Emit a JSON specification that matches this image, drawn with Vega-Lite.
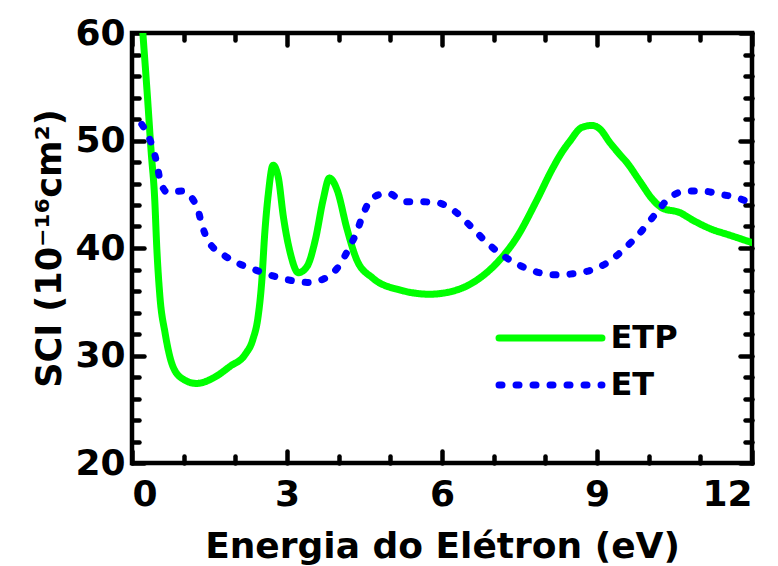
{
  "$schema": "https://vega.github.io/schema/vega-lite/v6.json",
  "width": 620,
  "height": 430,
  "autosize": "none",
  "padding": {"left": 132, "top": 33, "right": 26, "bottom": 103},
  "config": {
    "view": {"stroke": "black", "strokeWidth": 4.5},
    "font": "DejaVu Sans",
    "axis": {
      "domain": false, "grid": false,
      "labelFont": "DejaVu Sans", "labelFontWeight": "bold", "labelFontSize": 36, "labelColor": "black",
      "titleFont": "DejaVu Sans", "titleFontWeight": "bold", "titleFontSize": 36, "titleColor": "black",
      "tickColor": "black", "tickWidth": 4.5, "tickCap": "round"
    }
  },
  "data": {"values": [
    {"series": "ETP", "E": 0.21, "SCI": 60},
    {"series": "ETP", "E": 0.30, "SCI": 54},
    {"series": "ETP", "E": 0.37, "SCI": 49},
    {"series": "ETP", "E": 0.44, "SCI": 44.5},
    {"series": "ETP", "E": 0.48, "SCI": 40},
    {"series": "ETP", "E": 0.54, "SCI": 35.5},
    {"series": "ETP", "E": 0.64, "SCI": 32.1},
    {"series": "ETP", "E": 0.79, "SCI": 29.0},
    {"series": "ETP", "E": 0.99, "SCI": 27.8},
    {"series": "ETP", "E": 1.25, "SCI": 27.4},
    {"series": "ETP", "E": 1.57, "SCI": 27.9},
    {"series": "ETP", "E": 1.9, "SCI": 29.0},
    {"series": "ETP", "E": 2.19, "SCI": 30.1},
    {"series": "ETP", "E": 2.34, "SCI": 31.5},
    {"series": "ETP", "E": 2.44, "SCI": 33.6},
    {"series": "ETP", "E": 2.51, "SCI": 36.8},
    {"series": "ETP", "E": 2.57, "SCI": 41.4},
    {"series": "ETP", "E": 2.64, "SCI": 45.1},
    {"series": "ETP", "E": 2.73, "SCI": 47.7},
    {"series": "ETP", "E": 2.83, "SCI": 46.6},
    {"series": "ETP", "E": 2.93, "SCI": 42.9},
    {"series": "ETP", "E": 3.06, "SCI": 39.6},
    {"series": "ETP", "E": 3.22, "SCI": 37.7},
    {"series": "ETP", "E": 3.39, "SCI": 38.3},
    {"series": "ETP", "E": 3.55, "SCI": 40.8},
    {"series": "ETP", "E": 3.70, "SCI": 44.5},
    {"series": "ETP", "E": 3.82, "SCI": 46.5},
    {"series": "ETP", "E": 3.97, "SCI": 45.4},
    {"series": "ETP", "E": 4.16, "SCI": 41.8},
    {"series": "ETP", "E": 4.35, "SCI": 38.9},
    {"series": "ETP", "E": 4.66, "SCI": 37.2},
    {"series": "ETP", "E": 5.18, "SCI": 36.1},
    {"series": "ETP", "E": 5.76, "SCI": 35.7},
    {"series": "ETP", "E": 6.29, "SCI": 36.1},
    {"series": "ETP", "E": 6.73, "SCI": 37.2},
    {"series": "ETP", "E": 7.06, "SCI": 38.6},
    {"series": "ETP", "E": 7.45, "SCI": 41.0},
    {"series": "ETP", "E": 7.83, "SCI": 44.4},
    {"series": "ETP", "E": 8.14, "SCI": 47.4},
    {"series": "ETP", "E": 8.32, "SCI": 48.9},
    {"series": "ETP", "E": 8.47, "SCI": 49.9},
    {"series": "ETP", "E": 8.70, "SCI": 51.2},
    {"series": "ETP", "E": 8.9, "SCI": 51.4},
    {"series": "ETP", "E": 9.05, "SCI": 51.1},
    {"series": "ETP", "E": 9.25, "SCI": 49.8},
    {"series": "ETP", "E": 9.44, "SCI": 48.7},
    {"series": "ETP", "E": 9.57, "SCI": 48.0},
    {"series": "ETP", "E": 9.83, "SCI": 46.2},
    {"series": "ETP", "E": 10.08, "SCI": 44.5},
    {"series": "ETP", "E": 10.27, "SCI": 43.7},
    {"series": "ETP", "E": 10.6, "SCI": 43.3},
    {"series": "ETP", "E": 10.85, "SCI": 42.6},
    {"series": "ETP", "E": 11.24, "SCI": 41.7},
    {"series": "ETP", "E": 11.5, "SCI": 41.3},
    {"series": "ETP", "E": 12.0, "SCI": 40.5},
    {"series": "ET", "E": 0.19, "SCI": 51.5},
    {"series": "ET", "E": 0.3, "SCI": 50.6},
    {"series": "ET", "E": 0.41, "SCI": 49.2},
    {"series": "ET", "E": 0.48, "SCI": 47.9},
    {"series": "ET", "E": 0.54, "SCI": 46.4},
    {"series": "ET", "E": 0.68, "SCI": 45.2},
    {"series": "ET", "E": 0.97, "SCI": 45.3},
    {"series": "ET", "E": 1.26, "SCI": 43.8},
    {"series": "ET", "E": 1.35, "SCI": 42.2},
    {"series": "ET", "E": 1.47, "SCI": 40.7},
    {"series": "ET", "E": 1.76, "SCI": 39.4},
    {"series": "ET", "E": 2.09, "SCI": 38.5},
    {"series": "ET", "E": 2.42, "SCI": 37.9},
    {"series": "ET", "E": 2.73, "SCI": 37.4},
    {"series": "ET", "E": 3.06, "SCI": 37.0},
    {"series": "ET", "E": 3.39, "SCI": 36.8},
    {"series": "ET", "E": 3.7, "SCI": 37.1},
    {"series": "ET", "E": 4.0, "SCI": 38.3},
    {"series": "ET", "E": 4.18, "SCI": 39.8},
    {"series": "ET", "E": 4.35, "SCI": 41.5},
    {"series": "ET", "E": 4.47, "SCI": 43.1},
    {"series": "ET", "E": 4.66, "SCI": 44.7},
    {"series": "ET", "E": 4.95, "SCI": 45.1},
    {"series": "ET", "E": 5.28, "SCI": 44.3},
    {"series": "ET", "E": 5.61, "SCI": 44.3},
    {"series": "ET", "E": 5.92, "SCI": 44.2},
    {"series": "ET", "E": 6.25, "SCI": 43.4},
    {"series": "ET", "E": 6.58, "SCI": 41.9},
    {"series": "ET", "E": 6.89, "SCI": 40.4},
    {"series": "ET", "E": 7.21, "SCI": 39.2},
    {"series": "ET", "E": 7.54, "SCI": 38.3},
    {"series": "ET", "E": 7.89, "SCI": 37.7},
    {"series": "ET", "E": 8.22, "SCI": 37.5},
    {"series": "ET", "E": 8.53, "SCI": 37.6},
    {"series": "ET", "E": 8.86, "SCI": 37.9},
    {"series": "ET", "E": 9.19, "SCI": 38.6},
    {"series": "ET", "E": 9.5, "SCI": 39.8},
    {"series": "ET", "E": 9.83, "SCI": 41.4},
    {"series": "ET", "E": 10.12, "SCI": 43.1},
    {"series": "ET", "E": 10.41, "SCI": 44.7},
    {"series": "ET", "E": 10.74, "SCI": 45.3},
    {"series": "ET", "E": 11.05, "SCI": 45.3},
    {"series": "ET", "E": 11.37, "SCI": 45.0},
    {"series": "ET", "E": 11.7, "SCI": 44.7},
    {"series": "ET", "E": 12.0, "SCI": 44.1}
  ]},
  "layer": [
    {
      "mark": {"type": "line", "strokeWidth": 7, "strokeCap": "round", "strokeJoin": "round", "clip": true, "interpolate": "monotone"},
      "encoding": {
        "x": {"field": "E", "type": "quantitative", "scale": {"domain": [0, 12], "nice": false},
              "axis": {"orient": "bottom", "values": [0, 3, 6, 9, 12], "tickSize": -12, "labelPadding": 26, "title": "Energia do Elétron (eV)", "titleBaseline": "alphabetic", "titleY": 94}},
        "y": {"field": "SCI", "type": "quantitative", "scale": {"domain": [20, 60], "nice": false},
              "axis": {"orient": "left", "values": [20, 30, 40, 50, 60], "tickSize": -12, "labelPadding": 19, "title": "SCI (10⁻¹⁶cm²)", "titleFontSize": 35, "titleBaseline": "alphabetic", "titleX": -72}},
        "color": {"field": "series", "type": "nominal", "sort": ["ETP", "ET"],
                  "scale": {"domain": ["ETP", "ET"], "range": ["#00ff00", "#0000ff"]},
                  "legend": {"orient": "none", "legendX": 367, "legendY": 289, "title": null, "symbolType": "M-5,0H5", "symbolSize": 424, "symbolOffset": 35.5, "symbolStrokeWidth": 7, "labelFont": "DejaVu Sans", "labelFontWeight": "bold", "labelFontSize": 32, "labelColor": "black", "labelOffset": 44, "padding": 0, "rowPadding": 15,
                             "encode": {"symbols": {"enter": {"strokeCap": {"value": "round"}}, "update": {"strokeCap": {"value": "round"}}}}}},
        "strokeDash": {"field": "series", "type": "nominal", "sort": ["ETP", "ET"],
                  "scale": {"domain": ["ETP", "ET"], "range": [[1, 0], [3, 14]]},
                  "legend": {"orient": "none", "legendX": 367, "legendY": 289, "title": null, "symbolType": "M-5,0H5", "symbolSize": 424, "symbolOffset": 35.5, "symbolStrokeWidth": 7, "labelFont": "DejaVu Sans", "labelFontWeight": "bold", "labelFontSize": 32, "labelColor": "black", "labelOffset": 44, "padding": 0, "rowPadding": 15,
                             "encode": {"symbols": {"enter": {"strokeCap": {"value": "round"}}, "update": {"strokeCap": {"value": "round"}}}}}}
      }
    },
    {
      "mark": {"type": "line", "opacity": 0},
      "encoding": {
        "x": {"field": "E", "type": "quantitative", "axis": {"orient": "bottom", "values": [1, 2, 4, 5, 7, 8, 10, 11], "tickSize": -7, "labels": false, "title": null}},
        "y": {"field": "SCI", "type": "quantitative", "axis": {"orient": "left", "values": [22, 24, 26, 28, 32, 34, 36, 38, 42, 44, 46, 48, 52, 54, 56, 58], "tickSize": -7, "labels": false, "title": null}}
      }
    },
    {
      "mark": {"type": "line", "opacity": 0},
      "encoding": {
        "x": {"field": "E", "type": "quantitative", "axis": {"orient": "top", "values": [0, 3, 6, 9, 12], "tickSize": -12, "labels": false, "title": null}},
        "y": {"field": "SCI", "type": "quantitative", "axis": {"orient": "right", "values": [20, 30, 40, 50, 60], "tickSize": -12, "labels": false, "title": null}}
      }
    },
    {
      "mark": {"type": "line", "opacity": 0},
      "encoding": {
        "x": {"field": "E", "type": "quantitative", "axis": {"orient": "top", "values": [1, 2, 4, 5, 7, 8, 10, 11], "tickSize": -7, "labels": false, "title": null}},
        "y": {"field": "SCI", "type": "quantitative", "axis": {"orient": "right", "values": [22, 24, 26, 28, 32, 34, 36, 38, 42, 44, 46, 48, 52, 54, 56, 58], "tickSize": -7, "labels": false, "title": null}}
      }
    }
  ],
  "resolve": {"axis": {"x": "independent", "y": "independent"}}
}
